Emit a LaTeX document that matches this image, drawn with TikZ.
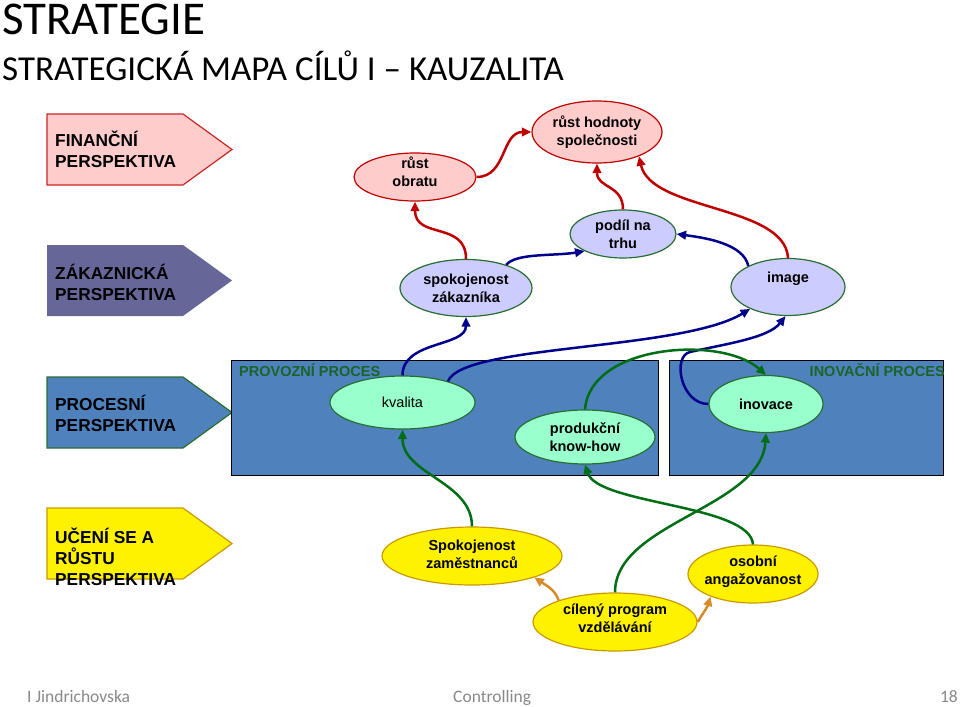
\documentclass[tikz,border=0pt]{standalone}
\usepackage{fontspec}
\setmainfont{Liberation Sans}
\newfontfamily\calibrifont{Carlito}
\usetikzlibrary{arrows.meta,shapes.geometric}

\definecolor{cred}{RGB}{192,0,0}
\definecolor{cnavy}{RGB}{0,0,140}
\definecolor{cgreen}{RGB}{0,110,20}
\definecolor{corange}{RGB}{214,140,40}
\definecolor{pinkfill}{RGB}{255,204,204}
\definecolor{bluefill}{RGB}{204,204,255}
\definecolor{mintfill}{RGB}{153,255,204}
\definecolor{procblue}{RGB}{79,129,189}
\definecolor{zakfill}{RGB}{102,102,153}
\definecolor{goldline}{RGB}{204,153,0}
\definecolor{labgreen}{RGB}{25,100,40}
\definecolor{footgray}{RGB}{137,137,137}
\definecolor{ellgreen}{RGB}{40,110,50}

\newcommand\ellfont{\fontsize{14.5}{18}\selectfont\bfseries}
\newcommand\perspfont{\fontsize{17.3}{21}\selectfont\bfseries}

\tikzset{
  ell/.style={ellipse, inner sep=0pt, align=center, font=\ellfont, line width=1.2pt},
  elltext/.style={inner sep=0pt, align=center, font=\ellfont},
  pinkell/.style={ell, fill=pinkfill, draw=cred},
  blueell/.style={ell, fill=bluefill, draw=ellgreen},
  mintell/.style={ell, fill=mintfill, draw=ellgreen},
  yellell/.style={ell, fill=yellow, draw=goldline},
  persptext/.style={anchor=west, inner sep=0pt, align=left, font=\perspfont},
  proclabel/.style={inner sep=0pt, text=labgreen, font=\fontsize{14.5}{18}\selectfont\bfseries},
  procbox/.style={rectangle, draw=black, line width=1pt, fill=procblue, inner sep=0pt},
  conn/.style={line width=2.5pt, -{Triangle[length=9.5pt,width=8.5pt]}},
  foot/.style={inner sep=0pt, text=footgray, font=\calibrifont\fontsize{17.5}{20}\selectfont}
}

\begin{document}
\begin{tikzpicture}[x=1pt,y=1pt]
\fill[white] (0,0) rectangle (960,-706);
\useasboundingbox (0,0) rectangle (960,-706);

% titles
\node[anchor=base west, inner sep=0pt, font=\calibrifont\fontsize{47}{52}\selectfont] (t1) at (2,-35) {STRATEGIE};
\node[anchor=base west, inner sep=0pt, font=\calibrifont\fontsize{35}{40}\selectfont] (t2) at (2,-81) {STRATEGICKÁ MAPA CÍLŮ I – KAUZALITA};

% perspective arrows
\draw[fill=pinkfill, draw=cred!85, line width=1.2pt] (47,-114) -- (183,-114) -- (232,-149.5) -- (183,-185) -- (47,-185) -- cycle;
\node[persptext] (fin) at (55,-149) {FINANČNÍ\\PERSPEKTIVA};
\fill[zakfill] (47,-245) -- (183,-245) -- (232,-280.5) -- (183,-316) -- (47,-316) -- cycle;
\node[persptext] (zak) at (55,-282) {ZÁKAZNICKÁ\\PERSPEKTIVA};
\draw[fill=procblue, draw=ellgreen, line width=1.2pt] (47,-377) -- (183,-377) -- (232,-412.5) -- (183,-448) -- (47,-448) -- cycle;
\node[persptext] (proc) at (55,-413) {PROCESNÍ\\PERSPEKTIVA};
\draw[fill=yellow, draw=goldline, line width=1.2pt] (47,-508) -- (183,-508) -- (232,-543.5) -- (183,-579) -- (47,-579) -- cycle;
\node[persptext] (uceni) at (55,-557) {UČENÍ SE A\\RŮSTU\\PERSPEKTIVA};

% process boxes
\node[procbox, minimum width=427, minimum height=115] (provoz) at (444.5,-417.5) {};
\node[procbox, minimum width=274, minimum height=115] (inovbox) at (806,-417.5) {};
\node[proclabel, anchor=west] (provozL) at (239,-370) {PROVOZNÍ PROCES};
\node[proclabel, anchor=east] (inovL) at (945,-370) {INOVAČNÍ PROCES};

% ellipses
\node[pinkell, minimum width=122, minimum height=48] (obrat) at (415,-177) {};
\node[elltext] (obratT) at (415,-172) {růst\\obratu};
\node[pinkell, minimum width=130, minimum height=62] (hodnota) at (597,-132) {růst hodnoty\\společnosti};
\node[blueell, minimum width=132, minimum height=57] (szak) at (466,-288) {spokojenost\\zákazníka};
\node[blueell, minimum width=106, minimum height=48] (podil) at (623,-234) {podíl na\\trhu};
\node[blueell, minimum width=114, minimum height=57] (image) at (788,-287) {\raisebox{0pt}[0pt][0pt]{\raisebox{5pt}{image}}};
\node[mintell, font=\fontsize{14.5}{18}\selectfont, minimum width=145, minimum height=53] (kvalita) at (402.5,-402.5) {kvalita};
\node[mintell, minimum width=140, minimum height=54] (knowhow) at (585,-437) {produkční\\know-how};
\node[mintell, minimum width=114, minimum height=57] (inovace) at (766,-404) {inovace};
\node[yellell, minimum width=180, minimum height=58] (spokzam) at (472,-556) {};
\node[elltext] (spokzamT) at (472,-554) {Spokojenost\\zaměstnanců};
\node[yellell, minimum width=164, minimum height=58] (cileny) at (615,-622) {};
\node[elltext] (cilenyT) at (615,-618) {cílený program\\vzdělávání};
\node[yellell, minimum width=130, minimum height=58] (osobni) at (753,-574) {};
\node[elltext] (osobniT) at (753,-572) {osobní\\angažovanost};

% red connectors
\draw[conn, cred] (szak.north) .. controls +(0,38) and +(0,-38) .. (obrat.south);
\draw[conn, cred] (obrat.east) .. controls +(30,0) and +(-30,0) .. (hodnota.west);
\draw[conn, cred] (podil.north) .. controls +(0,25) and +(0,-25) .. (hodnota.south);
\draw[conn, cred] (image.north) .. controls +(-3,53) and +(12,-55) .. (hodnota.-30);

% blue connectors
\draw[conn, cnavy] (szak.30) .. controls +(10,12) and +(-30,-5) .. (podil.204);
\draw[conn, cnavy] (image.152) .. controls +(-5,22) and +(30,-4) .. (podil.east);
\draw[conn, cnavy] (kvalita.north) .. controls +(0,35) and +(0,-30) .. (szak.south);
\draw[conn, cnavy] (kvalita.25) .. controls +(14,37) and +(-69,-42) .. (image.210);
\coordinate (loopc) at (690,-352);
\draw[conn, cnavy] (inovace.west) .. controls +(-28,0) and +(-18,-4) .. (loopc) .. controls +(35,8) and +(-17,-22) .. (image.265);

% green connectors
\draw[conn, cgreen] (knowhow.north) .. controls +(5,65) and +(-45,40) .. (inovace.north);
\draw[conn, cgreen] (spokzam.north) .. controls +(0,45) and +(0,-45) .. (kvalita.south);
\draw[conn, cgreen] (osobni.north) .. controls +(-3,40) and +(13,-40) .. (knowhow.south);
\draw[conn, cgreen] (cileny.north) .. controls +(0,70) and +(-5,-75) .. (inovace.south);

% orange connectors
\draw[conn, corange] (cileny.159) .. controls +(-3,10) and +(12,-8) .. (spokzam.-19);
\draw[conn, corange] (cileny.east) .. controls +(5,8) and +(-3,-10) .. (osobni.208);

% footer
\node[foot, anchor=base west] (f1) at (27,-702) {I Jindrichovska};
\node[foot, anchor=base west] (f2) at (453,-702) {Controlling};
\node[foot, anchor=base east] (f3) at (958,-702) {18};
\end{tikzpicture}
\end{document}
